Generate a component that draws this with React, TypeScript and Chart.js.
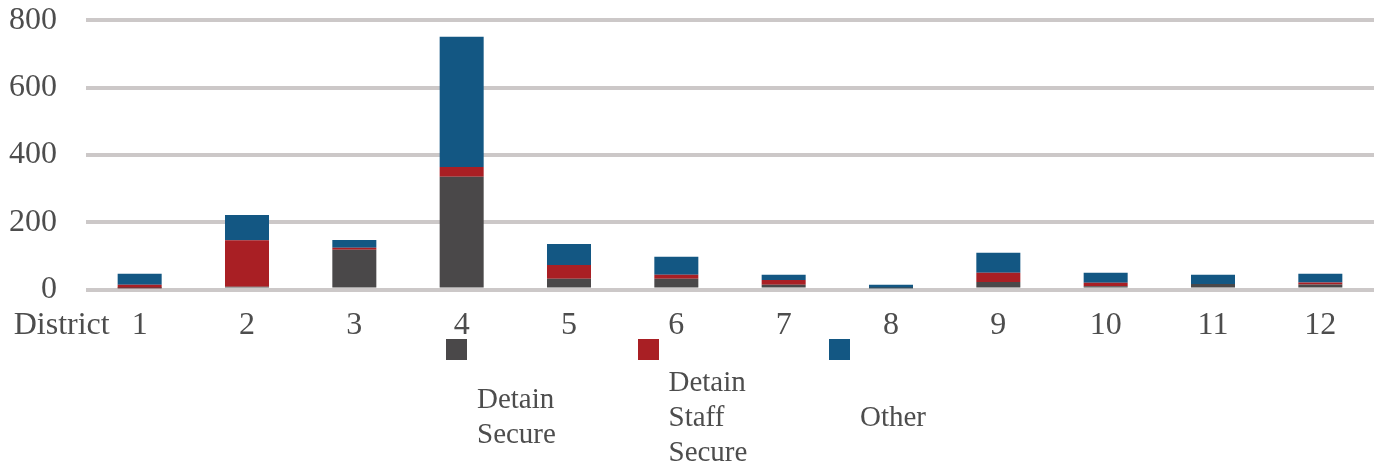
import React, { useEffect, useRef } from 'react';
import { Chart, registerables } from 'chart.js';

Chart.register(...registerables);

// ---- data ----
const categories = ['1', '2', '3', '4', '5', '6', '7', '8', '9', '10', '11', '12'];
const detainSecure = [4, 8, 118, 335, 32, 32, 14, 4, 22, 10, 16, 15];
const detainStaffSecure = [10, 138, 6, 29, 41, 12, 14, 0, 28, 10, 0, 6];
const other = [33, 75, 23, 387, 62, 53, 16, 10, 59, 30, 28, 26];
const seriesNames = ['Detain Secure', 'Detain Staff Secure', 'Other'];
const seriesColors = ['#4a4849', '#a91f24', '#135783'];
const yTicks = [0, 200, 400, 600, 800];
const axisPrefix = 'District';

const FONT = "'Liberation Serif', 'Times New Roman', serif";
const TEXT = '#4d4d4d';
const TICK_SIZE = 32;

const prefixPlugin = {
  id: 'axisPrefix',
  afterDraw(chart: any) {
    const xs = chart.scales.x;
    const ctx = chart.ctx;
    ctx.save();
    ctx.font = `${TICK_SIZE}px ${FONT}`;
    ctx.fillStyle = TEXT;
    const x0 = xs.getPixelForTick(0);
    const w = ctx.measureText(categories[0]).width;
    let y = xs.top + 17;
    let baseline = 'top';
    const items = xs.getLabelItems ? xs.getLabelItems(chart.chartArea) : null;
    if (items && items[0]) {
      y = items[0].options.translation[1] + (items[0].textOffset || 0);
      baseline = items[0].options.textBaseline || 'top';
    }
    ctx.textAlign = 'right';
    ctx.textBaseline = baseline;
    ctx.fillText(axisPrefix, x0 - w / 2 - 22, y);
    ctx.restore();
  },
};

export default function App() {
  const ref = useRef<HTMLCanvasElement | null>(null);

  useEffect(() => {
    if (!ref.current) return;
    const font = { family: FONT, size: TICK_SIZE };
    const chart = new Chart(ref.current, {
      type: 'bar',
      data: {
        labels: categories,
        datasets: [detainSecure, detainStaffSecure, other].map((d, i) => ({
          label: seriesNames[i],
          data: d,
          backgroundColor: seriesColors[i],
          borderWidth: 0,
          barPercentage: 0.41,
          categoryPercentage: 1,
        })),
      },
      options: {
        animation: false,
        responsive: false,
        devicePixelRatio: 1,
        layout: { padding: { top: 12, right: 9, bottom: 0, left: 0 } },
        plugins: { legend: { display: false }, tooltip: { enabled: false } },
        scales: {
          x: {
            stacked: true,
            grid: { display: false, drawTicks: false },
            border: { display: false },
            ticks: { font, color: TEXT, padding: 17, maxRotation: 0, autoSkip: false },
            afterFit: (s: any) => {
              s.height = 60.5;
            },
          },
          y: {
            stacked: true,
            min: 0,
            max: 800,
            afterBuildTicks: (s: any) => {
              s.ticks = yTicks.map((v) => ({ value: v }));
            },
            ticks: { font, color: TEXT, padding: 29 },
            grid: { color: '#ccc8c8', lineWidth: 4, drawTicks: false },
            border: { display: false },
            afterFit: (s: any) => {
              s.width = 86;
            },
          },
        },
      },
      plugins: [prefixPlugin],
    } as any);
    return () => chart.destroy();
  }, []);

  return (
    <div
      style={{
        position: 'fixed',
        left: 0,
        top: 0,
        width: 1383,
        height: 461,
        overflow: 'hidden',
        background: '#ffffff',
      }}
    >
      <canvas
        ref={ref}
        width={1383}
        height={378}
        style={{ position: 'absolute', left: 0, top: -28, width: 1383, height: 378 }}
      />
      <div style={{ position: 'absolute', left: 446, top: 339, display: 'flex' }}>
        {seriesNames.map((n, i) => (
          <div key={n} style={{ position: 'relative', width: 191.5, height: 122 }}>
            <div
              style={{
                position: 'absolute',
                left: 0,
                top: 0,
                width: 21,
                height: 21,
                background: seriesColors[i],
              }}
            />
            <div
              style={{
                position: 'absolute',
                left: 31,
                top: 77,
                transform: 'translateY(-50%)',
                width: 100,
                font: `29px/35px ${FONT}`,
                color: TEXT,
              }}
            >
              {n}
            </div>
          </div>
        ))}
      </div>
    </div>
  );
}
